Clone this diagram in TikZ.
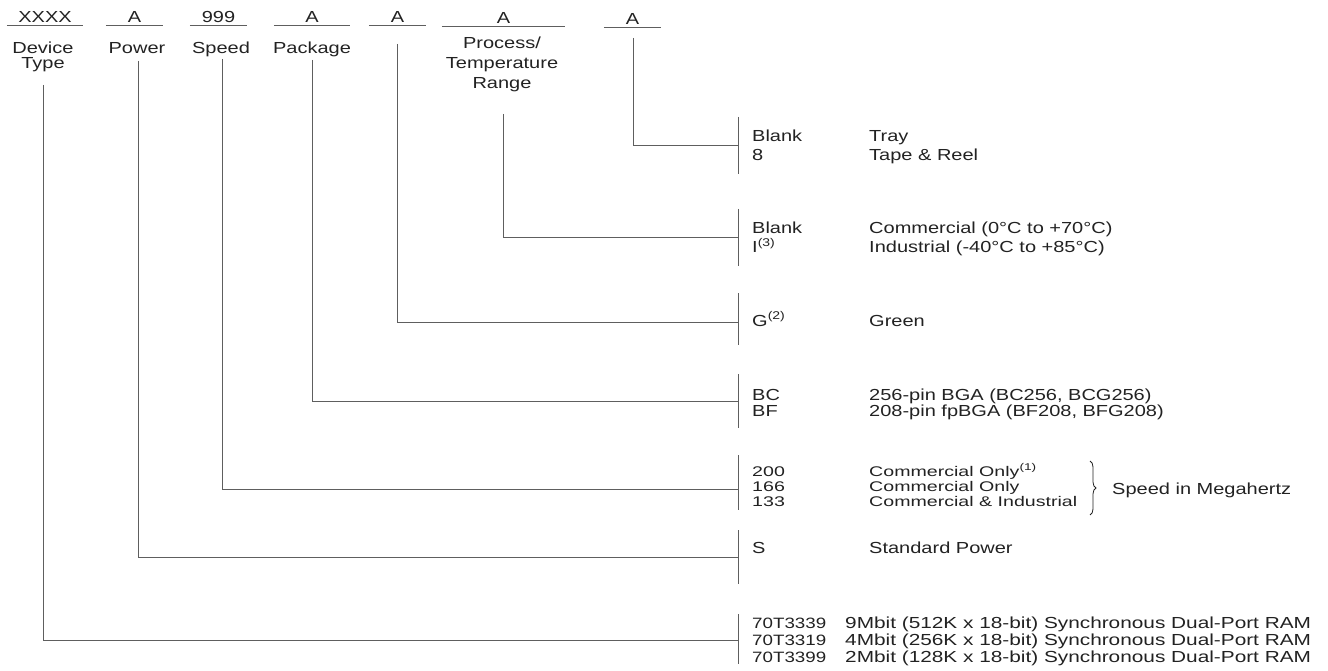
\documentclass[tikz,border=0pt]{standalone}
\usepackage{fontspec}
\setmainfont{Liberation Sans}[FakeStretch=1.25]
\newfontfamily\squeezed{Liberation Sans}[FakeStretch=1.4]
\newfontfamily\widened{Liberation Sans}[FakeStretch=1.3]
\usetikzlibrary{positioning,decorations.pathreplacing}
\definecolor{ink}{HTML}{222222}
\definecolor{wire}{HTML}{5E5E5E}

\begin{document}
\begin{tikzpicture}[x=1pt, y=-1pt,
    every node/.style={text=ink, font=\fontsize{16}{18}\selectfont},
    field/.style={anchor=base, inner xsep=0pt, inner ysep=2pt, minimum width=#1},
    caption/.style={anchor=north, align=center, inner sep=0pt},
    code/.style={anchor=base west, align=left, inner sep=0pt},
    rule/.style={draw=wire, line width=1pt},
    brace/.style={draw=ink, line width=0.8pt, decorate, decoration={brace, amplitude=6pt}}]
			\useasboundingbox (0,0) rectangle (1328,671);
			
			% ordering code fields
			\node[field=76](dev) at (45,23) {XXXX};
			\node[field=57](pwr) at (134.5,23) {A};
			\node[field=57](spd) at (218.5,23) {999};
			\node[field=76](pkg) at (312,23) {A};
			\node[field=57](grn) at (397.5,23) {A};
			\node[field=123](tmp) at (503.5,24) {A};
			\node[field=57](pak) at (632.5,25) {A};
			
			\draw[rule] (dev.south west) -- (dev.south east);
			\draw[rule] (pwr.south west) -- (pwr.south east);
			\draw[rule] (spd.south west) -- (spd.south east);
			\draw[rule] (pkg.south west) -- (pkg.south east);
			\draw[rule] (grn.south west) -- (grn.south east);
			\draw[rule] (tmp.south west) -- (tmp.south east);
			\draw[rule] (pak.south west) -- (pak.south east);
			
			\node[caption, font=\fontsize{16}{15}\selectfont](devl) at (43,42) {Device\\Type};
			\node[caption](pwrl) at (137,42) {Power};
			\node[caption](spdl) at (221,42) {Speed};
			\node[caption](pkgl) at (312,42) {Package};
			\node[caption, font=\fontsize{16}{20}\selectfont](tmpl) at (502,37) {Process/\\Temperature\\Range};
			
			% leads
			\coordinate (devt) at (43,85);
			\coordinate (pwrt) at (138,61);
			\coordinate (spdt) at (222,59);
			\coordinate (pkgt) at (312,60);
			\coordinate (grnt) at (397,44);
			\coordinate (tmpt) at (503,114);
			\coordinate (pakt) at (633,38);
			
			\coordinate (pakj) at (738,146);
			\coordinate (tmpj) at (738,238);
			\coordinate (grnj) at (738,322);
			\coordinate (pkgj) at (738,401);
			\coordinate (spdj) at (738,489);
			\coordinate (pwrj) at (738,557);
			\coordinate (devj) at (738,640);
			
			\draw[rule] (pakt) |- (pakj);
			\draw[rule] (tmpt) |- (tmpj);
			\draw[rule] (grnt) |- (grnj);
			\draw[rule] (pkgt) |- (pkgj);
			\draw[rule] (spdt) |- (spdj);
			\draw[rule] (pwrt) |- (pwrj);
			\draw[rule] (devt) |- (devj);
			
			\draw[rule] (738,117) -- (738,174);
			\draw[rule] (738,209) -- (738,266);
			\draw[rule] (738,293) -- (738,345);
			\draw[rule] (738,374) -- (738,428);
			\draw[rule] (738,455) -- (738,510);
			\draw[rule] (738,530) -- (738,584);
			\draw[rule] (738,614) -- (738,664);
			
			% options (anchored on the last line)
			\node[code, font=\fontsize{16}{19}\selectfont](pakc) at (752,161) {Blank\\8};
			\node[code, font=\fontsize{16}{19}\selectfont](pakd) at (869,161) {Tray\\Tape \& Reel};
			
			\node[code, font=\fontsize{16}{20}\selectfont](tmpc) at (752,253) {Blank\\I\textsuperscript{(3)}};
			\node[code, font=\fontsize{16}{20}\selectfont](tmpd) at (869,253) {Commercial (0°C to +70°C)\\Industrial (-40°C to +85°C)};
			
			\node[code](grnc) at (752,326) {G\textsuperscript{(2)}};
			\node[code](grnd) at (869,326) {Green};
			
			\node[code, font=\fontsize{16}{15.5}\selectfont](pkgc) at (752,416) {BC\\BF};
			\node[code, font=\fontsize{16}{15.5}\selectfont](pkgd) at (869,416) {256-pin BGA (BC256, BCG256)\\208-pin fpBGA (BF208, BFG208)};
			
			\node[code, font=\squeezed\fontsize{14}{15}\selectfont](spdc) at (752,506) {200\\166\\133};
			\node[code, font=\squeezed\fontsize{14}{15}\selectfont](spdd) at (869,506) {Commercial Only\textsuperscript{(1)}\\Commercial Only\\Commercial \& Industrial};
			\coordinate (brt) at (1090,461);
			\coordinate (brb) at (1090,515);
			\draw[brace] (brt) -- (brb);
			\node[code](spdn) at (1112,494) {Speed in Megahertz};
			
			\node[code](pwrc) at (752,553) {S};
			\node[code](pwrd) at (869,553) {Standard Power};
			
			\node[code, font=\fontsize{15}{17}\selectfont](devc) at (752,662) {70T3339\\70T3319\\70T3399};
			\node[code, font=\widened\fontsize{16}{17}\selectfont](devd) at (845,662) {9Mbit (512K x 18-bit) Synchronous Dual-Port RAM\\4Mbit (256K x 18-bit) Synchronous Dual-Port RAM\\2Mbit (128K x 18-bit) Synchronous Dual-Port RAM};
		\end{tikzpicture}
\end{document}
